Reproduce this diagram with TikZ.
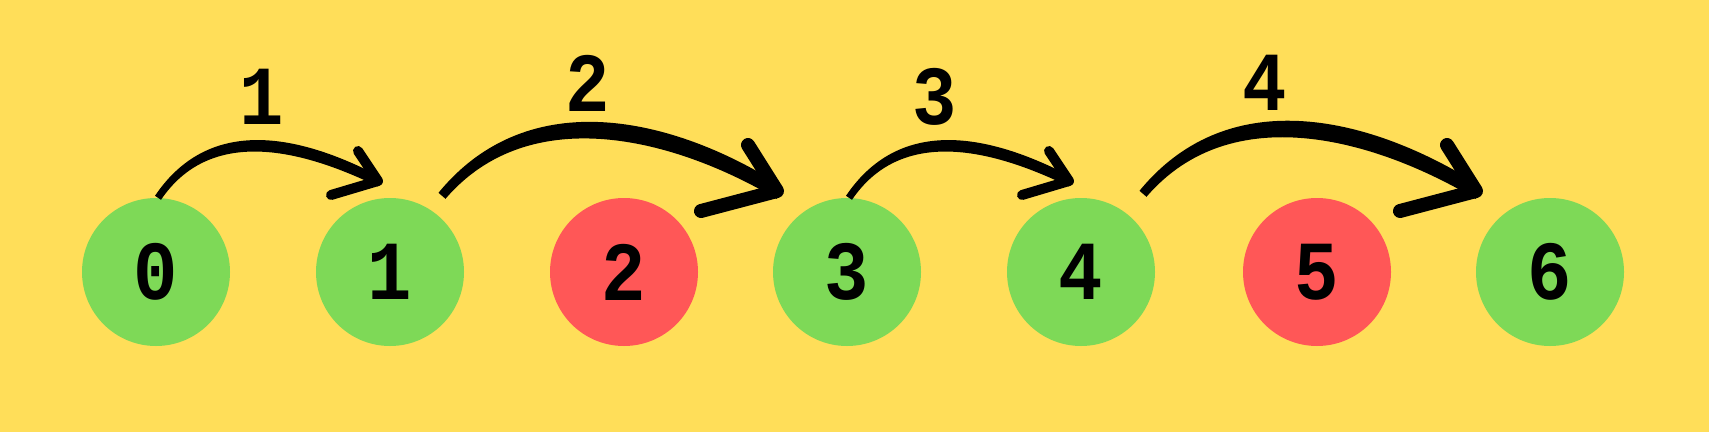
\documentclass[tikz,border=0pt]{standalone}
\usepackage{fontspec}
\newfontfamily\numfont{Liberation Mono}[FakeStretch=0.88]
\definecolor{bgyellow}{HTML}{FFDE59}
\definecolor{okgreen}{HTML}{7ED957}
\definecolor{badred}{HTML}{FF5757}
\begin{document}
\begin{tikzpicture}[x=1pt, y=1pt,
        every node/.style={font=\numfont\bfseries\fontsize{84}{84}\selectfont},
        stone/.style={circle, inner sep=0pt, minimum size=148pt},
        good/.style={stone, fill=okgreen},
        bad/.style={stone, fill=badred},
        brush/.style={fill=black},
        barb/.style={draw=black, line cap=round, line join=round}]

            % Background, fixes the page size
            \fill[bgyellow] (0,0) rectangle (1709,432);

            % Stones - green can be stepped on, red cannot
            \node[good] (n0) at (156,160) {0};
            \node[good] (n1) at (390,160) {1};
            \node[bad]  (n2) at (624,160) {2};
            \node[good] (n3) at (847,160) {3};
            \node[good] (n4) at (1081,160) {4};
            \node[bad]  (n5) at (1317,160) {5};
            \node[good] (n6) at (1550,160) {6};

            % Jump lengths
            \node (j1) at (262,335) {1};
            \node (j2) at (588,349) {2};
            \node (j3) at (935,335) {3};
            \node (j4) at (1265,349) {4};

            % Jump 1: 0 -> 1
            \coordinate (tip1) at (378,251);
            \fill[brush] ([shift={(-1,2)}]n0.north) .. controls +(57,84.5) and +(-72,37) .. ([yshift=5.5]tip1)
                -- ([yshift=-5.5]tip1) .. controls +(-72,35) and +(51,75.5) .. ([shift={(5,-2)}]n0.north) -- cycle;
            \draw[barb, line width=10pt] ([shift={(-20,30)}]tip1) -- (tip1) -- ([shift={(-47,-14)}]tip1);

            % Jump 2: 1 -> 3, over the red stone
            \coordinate (tip2) at (777,241);
            \fill[brush] ([shift={(48.5,5)}]n1.north) .. controls +(91.5,111.5) and +(-102,63.5) .. ([yshift=8]tip2)
                -- ([yshift=-8]tip2) .. controls +(-102,60.5) and +(84.5,98.5) .. ([shift={(55.5,-1)}]n1.north) -- cycle;
            \draw[barb, line width=14pt] ([shift={(-29,46)}]tip2) -- (tip2) -- ([shift={(-76,-20)}]tip2);

            % Jump 3: 3 -> 4
            \coordinate (tip3) at (1069,251);
            \fill[brush] ([shift={(-1,2)}]n3.north) .. controls +(57,84.5) and +(-72,37) .. ([yshift=5.5]tip3)
                -- ([yshift=-5.5]tip3) .. controls +(-72,35) and +(51,75.5) .. ([shift={(5,-2)}]n3.north) -- cycle;
            \draw[barb, line width=10pt] ([shift={(-20,30)}]tip3) -- (tip3) -- ([shift={(-47,-14)}]tip3);

            % Jump 4: 4 -> 6, over the red stone
            \coordinate (tip4) at (1476,241);
            \fill[brush] ([shift={(58.5,7)}]n4.north) .. controls +(91.5,111.5) and +(-102,63.5) .. ([yshift=8]tip4)
                -- ([yshift=-8]tip4) .. controls +(-102,60.5) and +(84.5,98.5) .. ([shift={(65.5,1)}]n4.north) -- cycle;
            \draw[barb, line width=14pt] ([shift={(-29,46)}]tip4) -- (tip4) -- ([shift={(-76,-20)}]tip4);

\end{tikzpicture}
\end{document}
